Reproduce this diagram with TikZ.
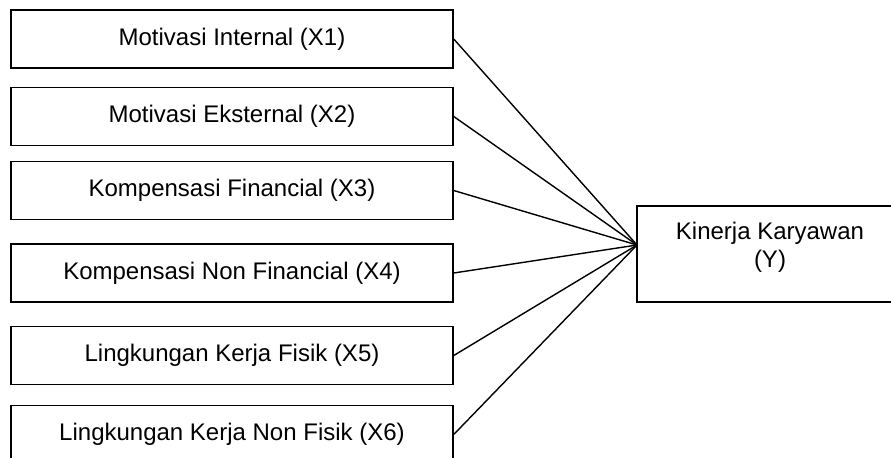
\documentclass[tikz,border=0pt]{standalone}
\usepackage{fontspec}
\setmainfont{Liberation Sans}
\usetikzlibrary{positioning}
\tikzset{
  varbox/.style={rectangle, draw=black, line width=0.75pt, minimum width=221pt, minimum height=29pt, align=center, inner sep=0pt},
  link/.style={-, line width=0.7pt}
}

\begin{document}
\begin{tikzpicture}[
    x=0.5pt, y=-0.5pt,
    every node/.style={font=\fontsize{12pt}{13.75pt}\selectfont},
]
\useasboundingbox (0,0) rectangle (891,457);

% independent variables
\node[varbox] (X1) at (232,39) {Motivasi Internal (X1)};
\node[varbox] (X2) at (232,116.5) {Motivasi Eksternal (X2)};
\node[varbox] (X3) at (232,190.5) {Kompensasi Financial (X3)};
\node[varbox] (X4) at (232,273) {Kompensasi Non Financial (X4)};
\node[varbox] (X5) at (232,355.5) {Lingkungan Kerja Fisik (X5)};
\node[varbox] (X6) at (232,434.5) {Lingkungan Kerja Non Fisik (X6)};

% dependent variable
\node[varbox, minimum width=133pt, minimum height=48pt, text depth=9pt] (Y) at (770,254) {Kinerja Karyawan\\(Y)};
\coordinate (hub) at (637,245);

% paths to Y
\foreach \i in {1,...,6} {
  \draw[link] (X\i.east) -- (hub);
}

\end{tikzpicture}
\end{document}
